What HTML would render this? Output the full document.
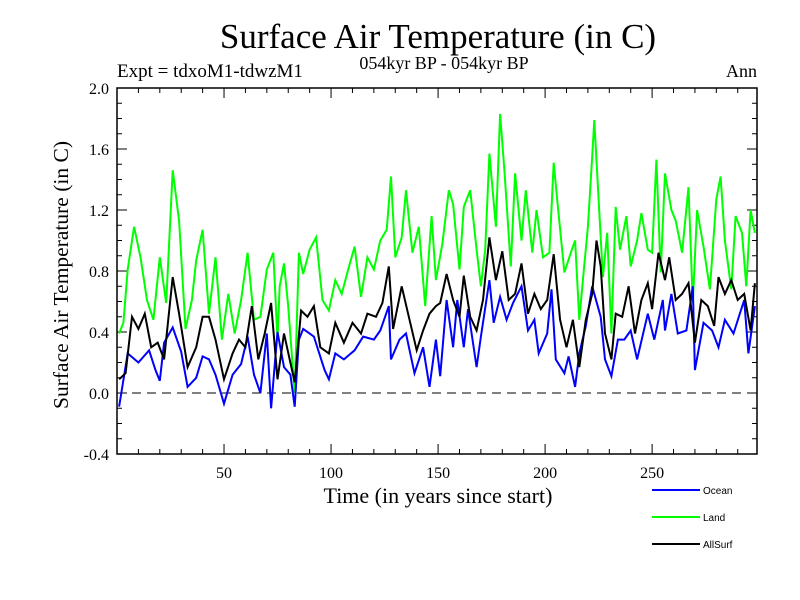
<!DOCTYPE html>
<html><head><meta charset="utf-8"><style>
body{margin:0;background:#fff;}
svg{display:block;}
.serif{font-family:"Liberation Serif",serif;}
.sans{font-family:"Liberation Sans",sans-serif;}
</style></head><body>
<svg id="chart" width="800" height="600" viewBox="0 0 800 600" xmlns="http://www.w3.org/2000/svg">
<rect width="800" height="600" fill="#fff"/>
<text class="serif" x="438" y="48" font-size="35" text-anchor="middle">Surface Air Temperature (in C)</text>
<text class="serif" x="117" y="77" font-size="19">Expt = tdxoM1-tdwzM1</text>
<text class="serif" x="444" y="69" font-size="18" text-anchor="middle">054kyr BP - 054kyr BP</text>
<text class="serif" x="757" y="77" font-size="18" text-anchor="end">Ann</text>
<text class="serif" font-size="21.5" text-anchor="middle" transform="translate(68,275) rotate(-90)">Surface Air Temperature (in C)</text>
<text class="serif" x="438" y="503" font-size="22" text-anchor="middle">Time (in years since start)</text>
<g id="axes"></g>
<g id="series"></g>
<g id="legend"></g>
</svg>
<script>
const xTicks = [50, 100, 150, 200, 250];
const yTicks = [-0.4, 0.0, 0.4, 0.8, 1.2, 1.6, 2.0];
const yTickLabels = ["-0.4", "0.0", "0.4", "0.8", "1.2", "1.6", "2.0"];
const seriesNames = ["Ocean", "Land", "AllSurf"];
const oceanYears = [1,5,10,15,18,20,22,26,30,33,37,40,43,46,50,54,58,61,64,67,70,72,75,78,81,83,85,87,92,97,99,102,106,111,115,120,123,127,128,132,135,139,143,146,149,151,154,157,159,162,164,168,170,174,176,179,182,185,189,192,195,197,201,203,205,209,211,214,216,219,222,226,228,231,234,237,240,243,248,251,255,256,259,262,266,269,270,274,278,281,284,288,293,295,298];
const oceanVals = [-0.09,0.26,0.2,0.28,0.15,0.08,0.33,0.43,0.27,0.04,0.1,0.24,0.22,0.12,-0.07,0.12,0.19,0.37,0.12,0.0,0.39,-0.1,0.4,0.17,0.12,-0.09,0.35,0.42,0.37,0.15,0.09,0.26,0.22,0.28,0.37,0.35,0.41,0.57,0.22,0.35,0.39,0.13,0.30,0.04,0.35,0.11,0.61,0.30,0.61,0.30,0.55,0.17,0.37,0.74,0.46,0.63,0.48,0.59,0.70,0.41,0.48,0.26,0.39,0.68,0.22,0.13,0.24,0.04,0.26,0.44,0.70,0.50,0.22,0.11,0.35,0.35,0.41,0.22,0.52,0.35,0.61,0.41,0.65,0.39,0.41,0.70,0.15,0.46,0.41,0.30,0.48,0.39,0.61,0.26,0.57];
const landYears = [1,3,5,8,11,14,17,20,23,26,29,32,35,37,40,43,46,49,52,55,58,61,64,67,70,73,75,76,78,80,83,85,87,90,93,96,99,102,105,108,111,114,117,120,123,126,128,130,133,135,138,141,144,147,149,152,155,157,160,162,165,168,170,172,174,177,179,181,184,186,189,191,194,196,199,202,204,206,209,212,214,216,218,220,222,223,225,227,229,231,233,235,238,240,243,245,248,250,252,254,256,259,261,264,267,269,271,274,277,280,282,284,287,289,292,294,296,298];
const landVals = [0.39,0.46,0.81,1.09,0.89,0.61,0.48,0.89,0.59,1.46,1.13,0.42,0.61,0.87,1.07,0.52,0.89,0.35,0.65,0.39,0.61,0.92,0.48,0.50,0.81,0.92,0.35,0.70,0.85,0.57,0.0,0.92,0.78,0.94,1.02,0.61,0.54,0.74,0.65,0.81,0.96,0.63,0.89,0.81,1.0,1.07,1.42,0.89,1.02,1.33,0.92,1.09,0.57,1.16,0.74,0.98,1.33,1.24,0.81,1.22,1.33,0.94,0.70,0.94,1.57,1.09,1.83,1.46,0.83,1.44,1.0,1.33,0.92,1.20,0.89,0.92,1.51,1.22,0.79,0.92,1.0,0.48,0.79,1.09,1.55,1.79,1.27,0.76,1.05,0.39,1.22,0.94,1.16,0.83,1.0,1.18,0.94,0.92,1.53,0.79,1.44,1.20,1.13,0.92,1.35,0.59,1.20,0.96,0.68,1.27,1.42,1.0,0.68,1.16,1.05,0.70,1.20,1.05];
const allYears = [1,4,7,10,13,16,19,22,26,29,33,37,40,43,46,50,54,57,60,63,66,69,72,75,78,83,86,89,92,95,99,102,106,110,114,117,121,124,127,129,133,136,140,143,146,149,151,154,157,160,162,165,168,171,174,177,180,183,186,189,192,195,198,201,204,207,210,213,216,219,222,224,226,228,231,233,236,239,242,245,248,250,253,256,258,261,264,267,270,273,276,279,281,284,287,290,293,296,298];
const allVals = [0.09,0.13,0.50,0.42,0.52,0.30,0.33,0.22,0.76,0.52,0.17,0.30,0.50,0.50,0.35,0.09,0.26,0.35,0.30,0.57,0.22,0.39,0.59,0.09,0.39,0.07,0.54,0.50,0.57,0.30,0.26,0.46,0.33,0.46,0.39,0.52,0.50,0.59,0.83,0.42,0.70,0.52,0.28,0.41,0.52,0.57,0.59,0.78,0.61,0.50,0.77,0.50,0.41,0.61,1.02,0.74,0.93,0.61,0.65,0.85,0.52,0.65,0.55,0.61,0.91,0.48,0.30,0.48,0.17,0.48,0.65,1.0,0.83,0.39,0.22,0.52,0.50,0.70,0.39,0.61,0.72,0.55,0.92,0.74,0.89,0.61,0.65,0.72,0.33,0.61,0.57,0.44,0.76,0.65,0.74,0.61,0.65,0.41,0.72];

const NS = "http://www.w3.org/2000/svg";
const L = 117, R = 757, T = 88, B = 454;
const xMin = 0, xMax = 299, yMin = -0.4, yMax = 2.0;
function xs(v){ return L + (v - xMin) * (R - L) / (xMax - xMin); }
function ys(v){ return B - (v - yMin) * (B - T) / (yMax - yMin); }
function mk(tag, attrs, parent){ const e = document.createElementNS(NS, tag); for (const k in attrs) e.setAttribute(k, attrs[k]); parent.appendChild(e); return e; }

const axes = document.getElementById('axes');
const frame = mk('rect', {x:L, y:T, width:R-L, height:B-T, fill:'none', stroke:'#000', 'stroke-width':1.5}, axes);


const zero = mk('line', {x1:L, x2:R, y1:ys(0), y2:ys(0), stroke:'#000', 'stroke-width':1, 'stroke-dasharray':'9,6'}, axes);


for (let i = 0; i <= 24; i++) {
  const v = yMin + i * 0.1, y = ys(v);
  const len = (i % 4 === 0) ? 10 : 5;
  mk('line', {x1:L, x2:L+len, y1:y, y2:y, stroke:'#000', 'stroke-width':1}, axes);
  mk('line', {x1:R, x2:R-len, y1:y, y2:y, stroke:'#000', 'stroke-width':1}, axes);
}
for (let yr = 10; yr < 300; yr += 10) {
  const x = xs(yr), len = (yr % 50 === 0) ? 10 : 5;
  mk('line', {x1:x, x2:x, y1:B, y2:B-len, stroke:'#000', 'stroke-width':1}, axes);
  mk('line', {x1:x, x2:x, y1:T, y2:T+len, stroke:'#000', 'stroke-width':1}, axes);
}
yTicks.forEach((v, i) => {
  const t = mk('text', {x:L-8, y:ys(v)+6, 'font-size':16, 'text-anchor':'end', 'font-family':'Liberation Serif, serif'}, axes);
  t.textContent = yTickLabels[i];
  
  
});
xTicks.forEach(v => {
  const t = mk('text', {x:xs(v), y:478, 'font-size':16, 'text-anchor':'middle', 'font-family':'Liberation Serif, serif'}, axes);
  t.textContent = String(v);
  
  
});

const series = document.getElementById('series');
const colors = ["#0000ff", "#00ff00", "#000000"];
const sYears = [oceanYears, landYears, allYears];
const sVals = [oceanVals, landVals, allVals];
[1, 0, 2].forEach(k => {
  const pts = sYears[k].map((yr, i) => xs(yr).toFixed(1) + ',' + ys(sVals[k][i]).toFixed(1)).join(' ');
  const p = mk('polyline', {points:pts, fill:'none', stroke:colors[k], 'stroke-width':2, 'stroke-linejoin':'miter'}, series);
  
  
});

const legend = document.getElementById('legend');
seriesNames.forEach((n, i) => {
  const y = 490 + i * 27;
  const ln = mk('line', {x1:652, x2:700, y1:y, y2:y, stroke:colors[i], 'stroke-width':2}, legend);
  
  
  const t = mk('text', {x:703, y:y+4, 'font-size':10, 'font-family':'Liberation Sans, sans-serif'}, legend);
  t.textContent = n;
  
  
});
</script>
</body></html>
